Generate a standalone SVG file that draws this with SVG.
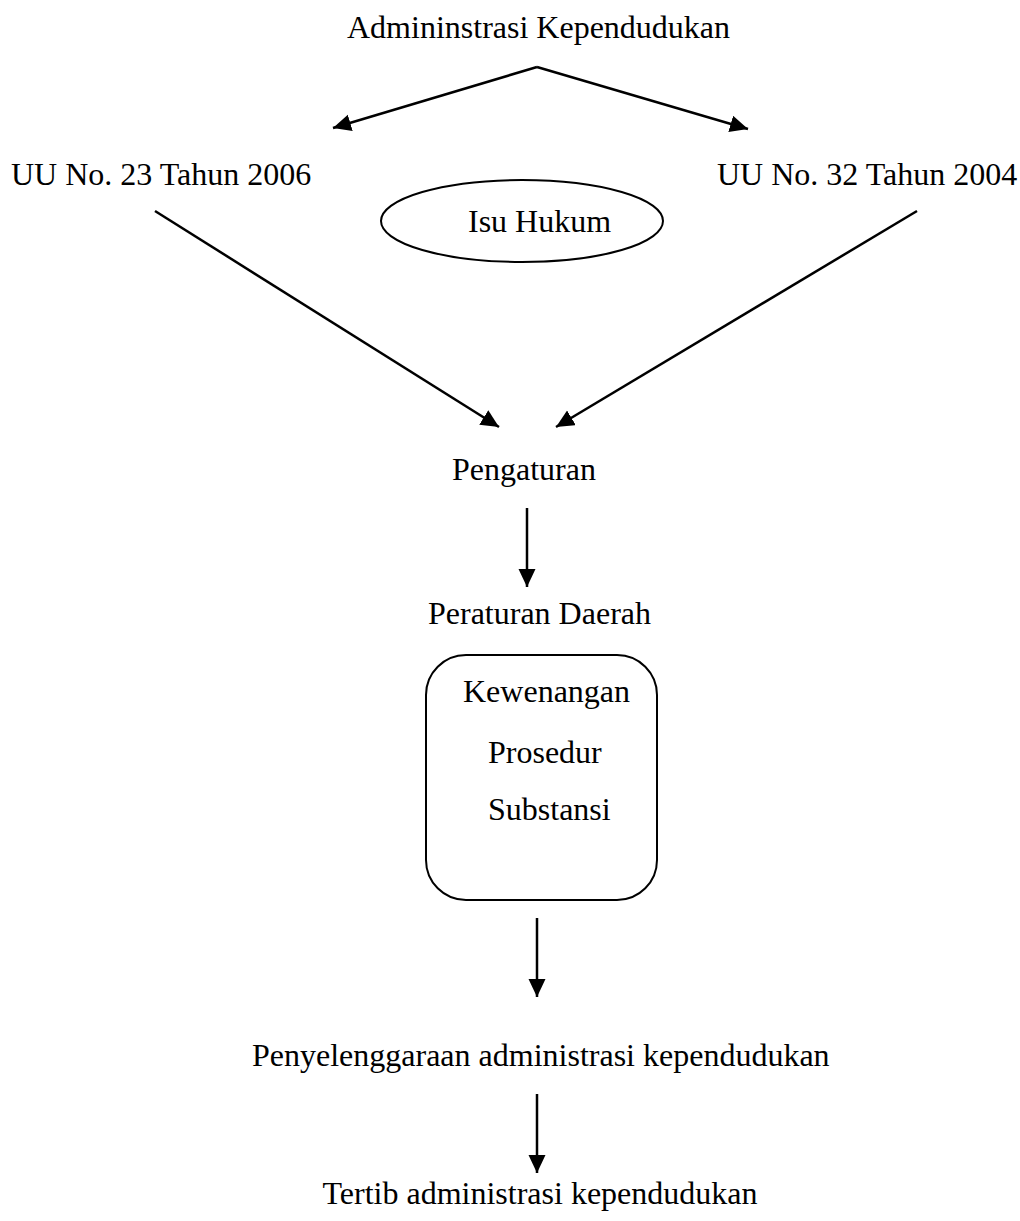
<svg xmlns="http://www.w3.org/2000/svg" width="1020" height="1221" viewBox="0 0 1020 1221">
<style>
text{font-family:"Liberation Serif","Times New Roman",serif;font-size:32px;fill:#000}
.ln{stroke:#000;stroke-width:2.5;fill:none}
.shape{stroke:#000;stroke-width:2;fill:none}
</style>
<defs>
<marker id="ah" markerUnits="userSpaceOnUse" markerWidth="20" markerHeight="20" refX="18" refY="8.5" orient="auto">
<path d="M0,0 L18,8.5 L0,17 z" fill="#000"/>
</marker>
</defs>
<rect width="1020" height="1221" fill="#fff"/>
<g id="connectors">
<line class="ln" x1="537" y1="67" x2="333" y2="128" marker-end="url(#ah)"/>
<line class="ln" x1="537" y1="67" x2="748" y2="129" marker-end="url(#ah)"/>
<line class="ln" x1="155" y1="211" x2="499" y2="427" marker-end="url(#ah)"/>
<line class="ln" x1="917" y1="211" x2="556" y2="427" marker-end="url(#ah)"/>
<line class="ln" x1="527" y1="508" x2="527" y2="587" marker-end="url(#ah)"/>
<line class="ln" x1="537" y1="918" x2="537" y2="997" marker-end="url(#ah)"/>
<line class="ln" x1="537" y1="1094" x2="537" y2="1173" marker-end="url(#ah)"/>
</g>
<g id="n-admin"><text x="347" y="38">Admininstrasi Kependudukan</text></g>
<g id="n-uu2006"><text x="11" y="185">UU No. 23 Tahun 2006</text></g>
<g id="n-uu2004"><text x="717" y="185">UU No. 32 Tahun 2004</text></g>
<g id="n-isu"><ellipse class="shape" cx="522" cy="221" rx="141" ry="41"/><text x="468" y="232">Isu Hukum</text></g>
<g id="n-pengaturan"><text x="452" y="480">Pengaturan</text></g>
<g id="n-perda"><text x="428" y="624">Peraturan Daerah</text></g>
<g id="n-box"><rect class="shape" x="426" y="655" width="231" height="245" rx="40" ry="40"/>
<text x="463" y="702">Kewenangan</text>
<text x="488" y="763">Prosedur</text>
<text x="488" y="820">Substansi</text></g>
<g id="n-penyelenggaraan"><text x="252" y="1066">Penyelenggaraan administrasi kependudukan</text></g>
<g id="n-tertib"><text x="540" y="1204" text-anchor="middle">Tertib administrasi kependudukan</text></g>
</svg>
